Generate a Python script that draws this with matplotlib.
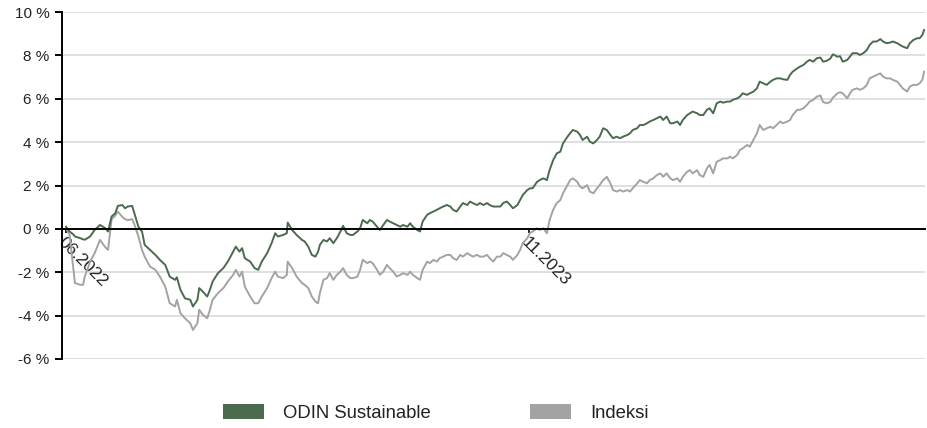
import numpy as np
import pandas as pd
import matplotlib
matplotlib.use('Agg')
import matplotlib.pyplot as plt
from matplotlib.patches import Patch

plt.rcParams['font.family'] = ['Liberation Sans', 'DejaVu Sans']

# days since 1.6.2022
days = [0, 4, 8, 10, 16, 19, 21, 27, 32, 38, 44, 47, 51, 55, 58, 63, 66, 69, 74, 77,
        81, 85, 88, 94, 100, 105, 111, 116, 122, 124, 128, 133, 139, 142, 147, 149, 153, 158, 161, 164,
        170, 176, 181, 187, 190, 194, 197, 200, 206, 211, 215, 219, 225, 230, 234, 237, 243, 247, 248, 253,
        258, 264, 267, 271, 275, 279, 282, 284, 288, 292, 295, 299, 303, 307, 310, 314, 318, 321, 326, 329,
        332, 337, 340, 343, 348, 351, 355, 359, 362, 366, 370, 374, 377, 382, 385, 388, 393, 396, 399, 404,
        407, 411, 415, 418, 422, 426, 430, 433, 437, 441, 444, 449, 452, 455, 460, 463, 467, 471, 474, 478,
        482, 486, 489, 493, 497, 500, 505, 508, 511, 516, 519, 522, 527, 530, 534, 538, 541, 545, 549, 553,
        556, 561, 564, 567, 572, 575, 578, 583, 586, 590, 594, 597, 601, 605, 609, 612, 616, 620, 623, 628,
        631, 634, 639, 642, 646, 650, 653, 657, 661, 665, 668, 672, 676, 679, 684, 687, 690, 695, 698, 701,
        706, 709, 713, 717, 720, 724, 728, 732, 735, 740, 743, 746, 751, 754, 757, 762, 765, 769, 773, 776,
        780, 784, 788, 791, 795, 799, 802, 807, 810, 813, 818, 821, 825, 829, 832, 836, 840, 844, 847, 851,
        855, 858, 863, 866, 869, 874, 877, 880, 885, 888, 892, 896, 899, 903, 907, 911, 914, 918, 922, 925,
        930, 933, 936, 941, 944, 948, 952, 955, 958, 960]

odin = [0.10, -0.12, -0.25, -0.35, -0.43, -0.48, -0.50, -0.35, -0.05, 0.18, 0.03, -0.12, 0.57, 0.72, 1.06, 1.10, 0.95, 1.03, 1.06, 0.65,
        0.10, -0.12, -0.74, -0.97, -1.20, -1.43, -1.66, -2.20, -2.35, -2.23, -2.81, -3.20, -3.27, -3.58, -3.27, -2.73, -2.89, -3.12, -2.81, -2.43,
        -2.04, -1.81, -1.51, -1.05, -0.82, -1.05, -0.89, -1.35, -1.51, -1.81, -1.89, -1.51, -1.12, -0.66, -0.20, -0.35, -0.28, -0.20, 0.29, -0.05,
        -0.28, -0.51, -0.58, -0.82, -1.20, -1.28, -1.05, -0.74, -0.51, -0.58, -0.43, -0.66, -0.43, -0.12, 0.14, -0.20, -0.28, -0.28, -0.12, 0.03,
        0.41, 0.26, 0.41, 0.34, 0.10, -0.05, 0.18, 0.41, 0.34, 0.26, 0.18, 0.10, 0.18, 0.10, 0.26, 0.10, -0.05, -0.12, 0.34, 0.65,
        0.72, 0.80, 0.88, 0.95, 1.03, 1.10, 1.03, 0.88, 0.80, 1.03, 1.19, 1.10, 1.26, 1.19, 1.10, 1.19, 1.10, 1.19, 1.10, 1.03,
        1.03, 1.03, 1.19, 1.26, 1.10, 0.95, 1.10, 1.33, 1.56, 1.79, 1.87, 1.87, 2.17, 2.25, 2.33, 2.25, 2.71, 3.17, 3.48, 3.56,
        3.94, 4.25, 4.41, 4.56, 4.48, 4.33, 4.10, 4.25, 4.02, 3.94, 4.10, 4.25, 4.64, 4.56, 4.33, 4.18, 4.25, 4.18, 4.25, 4.33,
        4.41, 4.56, 4.64, 4.79, 4.79, 4.87, 4.95, 5.02, 5.10, 5.18, 5.02, 5.18, 4.87, 4.87, 4.95, 4.79, 5.02, 5.25, 5.33, 5.41,
        5.33, 5.25, 5.25, 5.49, 5.56, 5.33, 5.79, 5.87, 5.82, 5.87, 5.87, 5.95, 6.02, 6.10, 6.25, 6.18, 6.25, 6.33, 6.48, 6.79,
        6.71, 6.64, 6.79, 6.87, 6.94, 6.94, 6.90, 6.87, 7.10, 7.25, 7.40, 7.48, 7.56, 7.71, 7.79, 7.71, 7.87, 7.90, 7.71, 7.75,
        7.85, 8.05, 7.94, 7.96, 7.71, 7.79, 7.94, 8.10, 8.10, 8.02, 8.10, 8.25, 8.48, 8.64, 8.64, 8.75, 8.64, 8.56, 8.59, 8.64,
        8.56, 8.48, 8.41, 8.33, 8.56, 8.71, 8.79, 8.79, 8.94, 9.17]

indeksi = [0.03, -0.28, -1.74, -2.50, -2.58, -2.58, -2.20, -1.51, -1.12, -0.51, -0.85, -0.97, 0.45, 0.60, 0.80, 0.55, 0.45, 0.40, 0.45, 0.15,
           -0.35, -0.97, -1.28, -1.74, -1.89, -2.20, -2.66, -3.43, -3.58, -3.27, -3.89, -4.12, -4.35, -4.66, -4.35, -3.73, -3.96, -4.12, -3.73, -3.27,
           -2.96, -2.73, -2.43, -2.12, -1.89, -2.20, -1.97, -2.66, -3.12, -3.43, -3.43, -3.12, -2.73, -2.27, -1.97, -2.20, -2.27, -2.12, -1.51, -1.81,
           -2.20, -2.50, -2.58, -2.73, -3.12, -3.35, -3.43, -2.96, -2.35, -2.27, -2.04, -2.35, -2.12, -1.97, -1.81, -2.12, -2.27, -2.27, -2.20, -1.89,
           -1.43, -1.58, -1.51, -1.58, -1.89, -2.12, -1.97, -1.66, -1.81, -1.97, -2.20, -2.12, -2.04, -2.12, -1.97, -2.12, -2.27, -2.35, -1.89, -1.51,
           -1.58, -1.43, -1.51, -1.35, -1.28, -1.20, -1.20, -1.35, -1.43, -1.20, -1.28, -1.12, -1.20, -1.28, -1.20, -1.28, -1.28, -1.20, -1.35, -1.51,
           -1.28, -1.28, -1.12, -1.20, -1.28, -1.43, -1.20, -0.97, -0.66, -0.43, -0.20, -0.12, 0.03, -0.05, 0.03, -0.20, 0.41, 0.88, 1.19, 1.33,
           1.64, 2.02, 2.25, 2.33, 2.17, 1.95, 1.87, 2.02, 1.72, 1.64, 1.87, 2.02, 2.25, 2.40, 2.10, 1.79, 1.72, 1.79, 1.72, 1.79,
           1.72, 1.87, 2.10, 2.25, 2.17, 2.10, 2.25, 2.33, 2.48, 2.56, 2.40, 2.56, 2.33, 2.25, 2.33, 2.17, 2.40, 2.64, 2.71, 2.56,
           2.71, 2.48, 2.40, 2.79, 2.95, 2.56, 3.10, 3.17, 3.25, 3.25, 3.33, 3.25, 3.41, 3.64, 3.71, 3.87, 3.79, 4.10, 4.41, 4.79,
           4.56, 4.64, 4.71, 4.64, 4.79, 4.95, 4.87, 4.95, 5.02, 5.25, 5.49, 5.49, 5.56, 5.72, 5.87, 5.95, 6.10, 6.15, 5.85, 5.79,
           5.85, 6.05, 6.25, 6.30, 6.25, 6.02, 6.25, 6.41, 6.48, 6.41, 6.48, 6.64, 6.94, 7.02, 7.10, 7.17, 7.02, 6.94, 6.94, 6.87,
           6.79, 6.64, 6.48, 6.33, 6.56, 6.64, 6.64, 6.71, 6.87, 7.25]

start = pd.Timestamp('2022-06-01')
dates = start + pd.to_timedelta(days, unit='D')

x_ticks = ['2022-06-01', '2023-11-01']
x_labels = ['06.2022', '11.2023']
y_ticks = [-6, -4, -2, 0, 2, 4, 6, 8, 10]
y_labels = ['-6 %', '-4 %', '-2 %', '0 %', '2 %', '4 %', '6 %', '8 %', '10 %']

green = '#4b6a4e'
grey = '#a3a3a3'
txt = '#222222'

fig = plt.figure(figsize=(9.28, 4.28), dpi=100)
ax = fig.add_axes([62/928, 1 - 359/428, (925 - 62)/928, (359 - 12)/428])

for y in y_ticks:
    if y != 0:
        ax.axhline(y, color='#dddddd', lw=1.3, zorder=0)

ax.plot(dates, indeksi, color=grey, lw=1.4, zorder=2)
ax.plot(dates, odin, color=green, lw=1.4, zorder=2)

ax.set_ylim(-6, 10)
ax.set_xlim(start - pd.Timedelta(days=4.5), start + pd.Timedelta(days=961))

ax.spines['top'].set_visible(False)
ax.spines['right'].set_visible(False)
ax.spines['left'].set_linewidth(1.4)
ax.spines['bottom'].set_position(('data', 0))
ax.spines['bottom'].set_linewidth(1.4)
ax.spines['bottom'].set_zorder(3)

ax.set_yticks(y_ticks)
ax.set_yticklabels(y_labels)
ax.tick_params(axis='y', length=5, width=1.4, labelsize=11, colors='black', labelcolor=txt, pad=4)

ax.set_xticks(pd.to_datetime(x_ticks))
ax.set_xticklabels(x_labels)
ax.tick_params(axis='x', length=3, width=1.2, labelsize=12.5, labelcolor=txt, pad=1)
for lab in ax.get_xticklabels():
    lab.set_rotation(-45)
    lab.set_ha('left')
    lab.set_va('top')
    lab.set_rotation_mode('anchor')

handles = [Patch(facecolor=green, label='ODIN Sustainable'),
           Patch(facecolor=grey, label='Indeksi')]
fig.legend(handles=handles, loc='center', bbox_to_anchor=(436/928, 1 - 413/428),
           ncol=2, frameon=False, fontsize=13.3, handlelength=2.2, handleheight=0.86,
           handletextpad=1.08, columnspacing=5.35, labelcolor=txt)

fig.savefig('out.png', dpi=100)
